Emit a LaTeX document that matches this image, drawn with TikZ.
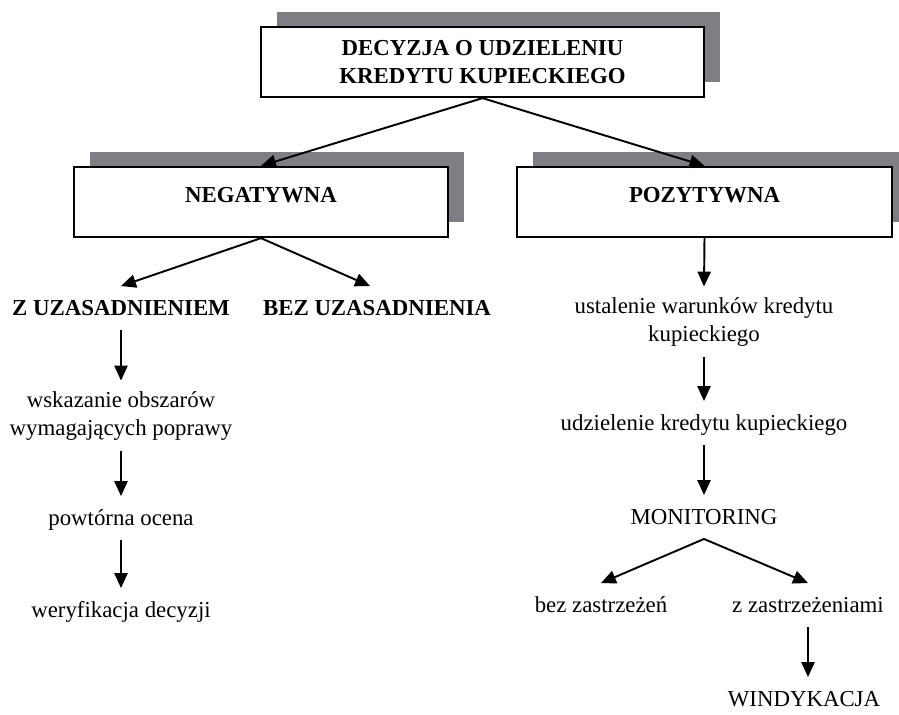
\documentclass[tikz,border=0pt]{standalone}
\usepackage{fontspec}
\setmainfont{Liberation Serif}
\usepackage{xcolor}
\usetikzlibrary{arrows.meta,shadows}

\definecolor{shgray}{RGB}{126,127,132}
\newcommand{\dfont}{\fontsize{13}{15.5}\selectfont}

\begin{document}
\begin{tikzpicture}[
    x=0.02cm, y=-0.02cm,
    box/.style={draw, line width=1.3pt, fill=white, minimum height=1.4cm, inner sep=0pt,
        general shadow={fill=shgray, shadow xshift=0.32cm, shadow yshift=0.30cm}},
    onebox/.style={font=\dfont\bfseries, text height=0.3cm, text depth=0.28cm},
    lbl/.style={font=\dfont, inner sep=0pt, outer ysep=8pt, text height=9pt, text depth=0pt},
    lbltwo/.style={font=\dfont, align=center, inner sep=0pt, outer ysep=6.5pt},
    arr/.style={-{Triangle[width=7.5pt,length=8.5pt]}, line width=1.1pt}
]
\useasboundingbox (0,0) rectangle (899,714);

% decision boxes
\node[box, minimum width=8.86cm, font=\dfont\bfseries, align=center] (top) at (482.5,62) {DECYZJA O UDZIELENIU\\KREDYTU KUPIECKIEGO};
\node[box, onebox, minimum width=7.48cm] (neg) at (261,202) {NEGATYWNA};
\node[box, onebox, minimum width=7.5cm] (poz) at (704.5,202) {POZYTYWNA};

% negative branch
\node[lbl, font=\dfont\bfseries] (zuz) at (121,308) {Z UZASADNIENIEM};
\node[lbl, font=\dfont\bfseries] (buz) at (377,308) {BEZ UZASADNIENIA};
\node[lbltwo] (wsk) at (121,416) {wskazanie obszarów\\wymagających poprawy};
\node[lbl] (pow) at (121,518) {powtórna ocena};
\node[lbl] (wer) at (121,610) {weryfikacja decyzji};

% positive branch
\node[lbltwo] (ust) at (704,322) {ustalenie warunków kredytu\\kupieckiego};
\node[lbl] (udz) at (704,423) {udzielenie kredytu kupieckiego};
\node[lbl] (mon) at (704,517) {MONITORING};
\node[lbl] (bzz) at (601,605) {bez zastrzeżeń};
\node[lbl] (zzz) at (808,605) {z zastrzeżeniami};
\node[lbl] (win) at (804,699) {WINDYKACJA};

\draw[arr] (top.south) -- (neg.north);
\draw[arr] (top.south) -- (poz.north);
\draw[arr] (neg.south) -- (zuz.north);
\draw[arr] (neg.south) -- ([xshift=-0.14cm]buz.north);
\draw[arr] (zuz.south) -- (wsk.north);
\draw[arr] (wsk.south) -- (pow.north);
\draw[arr] (pow.south) -- (wer.north);
\draw[arr] (poz.south) -- (ust.north);
\draw[arr] (ust.south) -- (udz.north);
\draw[arr] (udz.south) -- (mon.north);
\draw[arr] (mon.south) -- (bzz.north);
\draw[arr] (mon.south) -- (zzz.north);
\draw[arr] (zzz.south) -- (zzz.south |- win.north);

\end{tikzpicture}
\end{document}
